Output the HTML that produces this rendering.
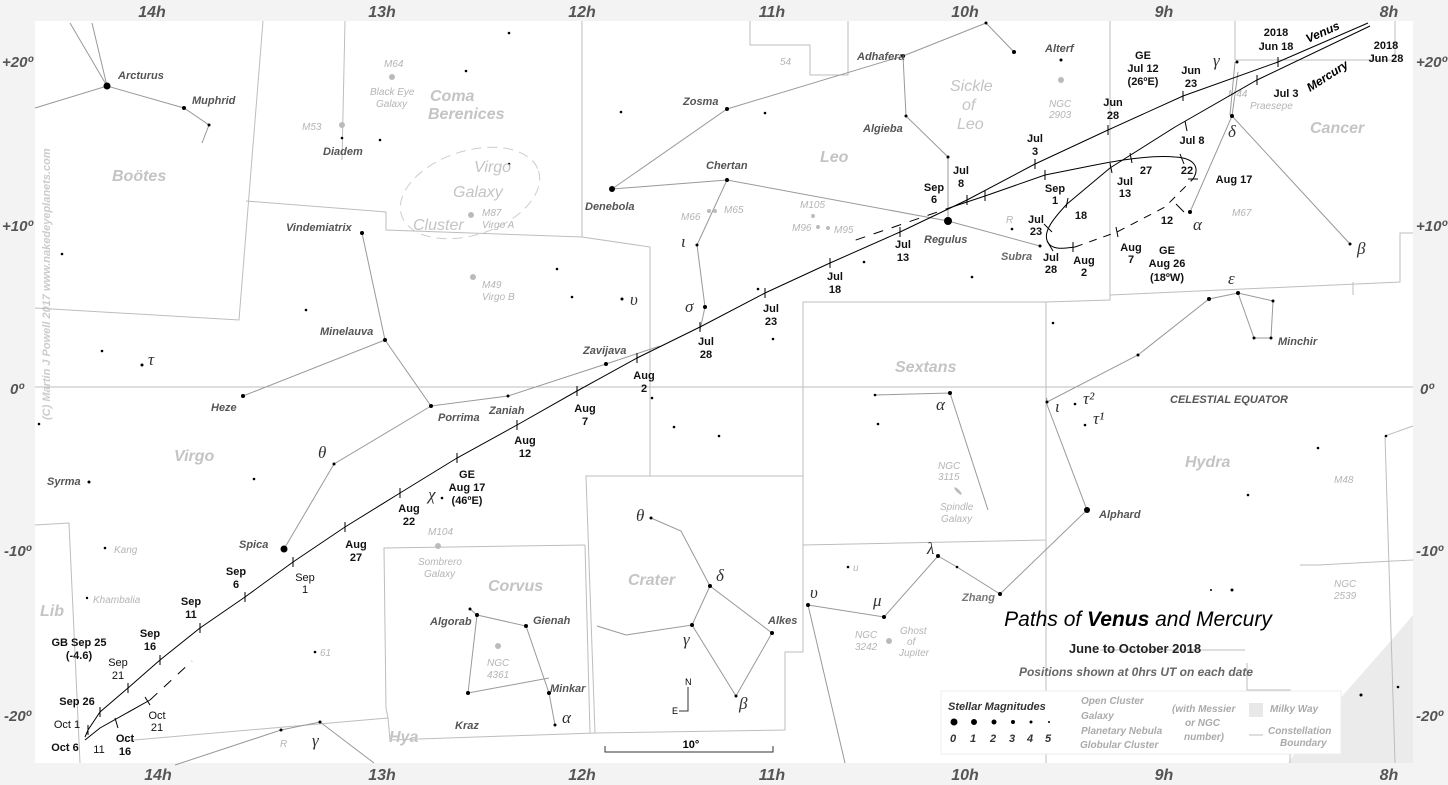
<!DOCTYPE html>
<html><head><meta charset="utf-8"><style>
html,body{margin:0;padding:0;background:#f3f3f3;}
svg{display:block;font-family:"Liberation Sans",sans-serif;}
.h{font:italic bold 16px "Liberation Sans";fill:#555;}
.d{font:italic bold 15px "Liberation Sans";fill:#555;}
.b{fill:none;stroke:#bdbdbd;stroke-width:1;}
.c{fill:none;stroke:#999;stroke-width:1;}
.sn{font:italic bold 11px "Liberation Sans";fill:#555;}
.g{font:italic 10px "Liberation Sans";fill:#b5b5b5;}
.gb{font:italic bold 10px "Liberation Sans";fill:#aaa;}
.con{font:bold 16px "Liberation Sans";fill:#c4c4c4;font-style:italic;}
.dt{font:bold 11px "Liberation Sans";fill:#111;text-anchor:middle;}
.gr{font:italic 17px "Liberation Serif";fill:#333;}
.p{fill:none;stroke:#000;stroke-width:1;}
</style></head><body>
<svg width="1448" height="785" viewBox="0 0 1448 785">
<rect x="35" y="21" width="1378" height="742" fill="#fff"/>
<!-- milky way -->
<path d="M1288,763 C1320,718 1365,672 1413,615 L1413,763Z" fill="#ebebeb"/>
<!-- hour labels -->
<g class="h" text-anchor="middle">
<text x="152" y="17">14h</text><text x="382" y="17">13h</text><text x="582" y="17">12h</text><text x="772" y="17">11h</text><text x="965" y="17">10h</text><text x="1164" y="17">9h</text><text x="1389" y="17">8h</text>
<text x="158" y="780">14h</text><text x="382" y="780">13h</text><text x="582" y="780">12h</text><text x="772" y="780">11h</text><text x="965" y="780">10h</text><text x="1164" y="780">9h</text><text x="1389" y="780">8h</text>
</g>
<g class="d"><text x="2" y="67">+20º</text><text x="2" y="231">+10º</text><text x="10" y="394">0º</text><text x="4" y="556">-10º</text><text x="4" y="721">-20º</text>
<text x="1416" y="67">+20º</text><text x="1416" y="231">+10º</text><text x="1420" y="394">0º</text><text x="1416" y="556">-10º</text><text x="1416" y="721">-20º</text></g>
<text transform="translate(50,420) rotate(-90)" style="font:italic bold 11px 'Liberation Sans';fill:#ccc">(C) Martin J Powell  2017   www.nakedeyeplanets.com</text>
<!-- boundaries -->
<g class="b">
<line x1="35" y1="387" x2="1413" y2="387"/>
<polyline points="263,21 239,320 35,308"/>
<polyline points="246,201 386,212 386,230 582,237 582,21"/>
<polyline points="582,237 650,247 650,476"/>
<polyline points="345,21 342,160"/>
<polyline points="35,525 69,523 80,763"/>
<polyline points="123,741 388,718 386,708 384,548 585,545"/>
<polyline points="388,718 390,740 595,733 586,476 803,476 803,545 1046,540 1046,302 803,302 803,476"/>
<polyline points="585,545 590,733"/>
<polyline points="803,545 803,652 785,652 785,730 595,733"/>
<polyline points="1046,540 1046,763"/>
<polyline points="1046,302 1110,300 1110,21"/>
<polyline points="1110,295 1400,282 1400,233 1413,233"/>
<polyline points="1235,21 1235,60 1395,60 1395,21"/>
<polyline points="1353,282 1353,295"/>
<polyline points="750,21 750,45 810,45 810,75 848,75 848,21"/>
<polyline points="1413,426 1385,436 1395,763"/>
<polyline points="1300,565 1310,565 1318,565 1413,560"/>
<polyline points="1247,663 1247,690 1290,690 1290,763"/>
<polyline points="1100,650 1245,650"/>
</g>
<ellipse cx="470" cy="193" rx="72" ry="42" transform="rotate(-18 470 193)" fill="none" stroke="#ccc" stroke-dasharray="10,6"/>
<!-- constellation lines -->
<g class="c">
<polyline points="70,23 107,86 92,23"/><polyline points="35,108 107,86 184,108 209,125 202,143"/>
<polyline points="362,233 385,340 243,396"/><polyline points="385,340 431,406 508,396 606,364 660,346"/>
<polyline points="431,406 334,464 284,549"/>
<polyline points="612,189 727,109 903,56 906,116 948,157 948,221"/><polyline points="903,56 986,23 1014,52"/>
<polyline points="612,189 727,180 948,221 1040,246"/>
<polyline points="727,180 697,245 705,307 700,330"/>
<polyline points="651,518 681,531 710,586 772,633 736,696 692,625 626,635 597,626"/><polyline points="710,586 692,625"/>
<polyline points="470,609 477,615 468,693"/><polyline points="477,615 526,626 549,693 555,725"/><polyline points="468,693 549,678"/>
<polyline points="175,765 281,730 320,722 374,763"/>
<polyline points="808,605 884,617 938,556 957,567 1000,594 1087,510 1046,402 1047,398"/>
<polyline points="808,605 845,763"/>
<polyline points="875,395 950,393 988,510"/>
<polyline points="1047,402 1138,355 1209,299 1238,293 1273,301 1271,338 1254,338 1238,293"/>
<polyline points="1230,115 1235,62"/><polyline points="1238,72 1232,116 1350,244"/><polyline points="1232,116 1190,212"/>
</g>
<!-- stars -->
<g fill="#000">
<circle cx="107" cy="86" r="3.5"/><circle cx="184" cy="108" r="2"/><circle cx="209" cy="125" r="1.5"/>
<circle cx="342" cy="138" r="1.3"/><circle cx="380" cy="140" r="1.3"/><circle cx="466" cy="71" r="1.3"/><circle cx="509" cy="33" r="1.3"/><circle cx="509" cy="164" r="1.3"/>
<circle cx="362" cy="233" r="2"/><circle cx="385" cy="340" r="2"/><circle cx="243" cy="396" r="2"/><circle cx="431" cy="406" r="2"/><circle cx="508" cy="396" r="1.5"/><circle cx="606" cy="364" r="2"/>
<circle cx="334" cy="464" r="1.5"/><circle cx="284" cy="549" r="3.5"/><circle cx="89" cy="482" r="1.5"/><circle cx="105" cy="548" r="1.3"/><circle cx="87" cy="598" r="1.2"/>
<circle cx="62" cy="254" r="1.3"/><circle cx="102" cy="351" r="1.3"/><circle cx="142" cy="365" r="1.5"/><circle cx="39" cy="424" r="1.3"/><circle cx="254" cy="479" r="1.3"/>
<circle cx="306" cy="310" r="1.3"/><circle cx="557" cy="269" r="1.3"/><circle cx="572" cy="297" r="1.3"/><circle cx="622" cy="299" r="1.5"/><circle cx="442" cy="498" r="1.3"/><circle cx="315" cy="652" r="1.3"/>
<circle cx="612" cy="189" r="3"/><circle cx="727" cy="109" r="2"/><circle cx="765" cy="113" r="1.3"/><circle cx="903" cy="56" r="2"/><circle cx="986" cy="23" r="1.5"/><circle cx="1014" cy="52" r="2"/>
<circle cx="906" cy="116" r="1.5"/><circle cx="948" cy="157" r="1.5"/><circle cx="948" cy="221" r="4"/><circle cx="727" cy="180" r="2"/><circle cx="697" cy="245" r="1.5"/><circle cx="705" cy="307" r="2"/>
<circle cx="621" cy="112" r="1.3"/><circle cx="1040" cy="246" r="1.5"/><circle cx="1012" cy="229" r="1.3"/><circle cx="972" cy="277" r="1.3"/><circle cx="1061" cy="60" r="1.5"/>
<circle cx="758" cy="289" r="1.3"/><circle cx="773" cy="339" r="1.3"/><circle cx="652" cy="398" r="1.3"/><circle cx="674" cy="427" r="1.3"/><circle cx="719" cy="436" r="1.3"/><circle cx="864" cy="262" r="1.3"/>
<circle cx="651" cy="518" r="1.5"/><circle cx="710" cy="586" r="2"/><circle cx="692" cy="625" r="2"/><circle cx="772" cy="633" r="2"/><circle cx="736" cy="696" r="1.5"/>
<circle cx="470" cy="609" r="1.5"/><circle cx="477" cy="615" r="2"/><circle cx="526" cy="626" r="2"/><circle cx="549" cy="693" r="2"/><circle cx="468" cy="693" r="2"/><circle cx="555" cy="725" r="1.5"/>
<circle cx="281" cy="730" r="1.5"/><circle cx="320" cy="722" r="1.5"/>
<circle cx="808" cy="605" r="2"/><circle cx="884" cy="617" r="2"/><circle cx="938" cy="556" r="2"/><circle cx="957" cy="567" r="1.3"/><circle cx="1000" cy="594" r="2"/><circle cx="848" cy="567" r="1.3"/>
<circle cx="875" cy="395" r="1.3"/><circle cx="950" cy="393" r="2"/><circle cx="878" cy="424" r="1.3"/>
<circle cx="1087" cy="510" r="3"/><circle cx="1047" cy="402" r="1.5"/><circle cx="1075" cy="404" r="1.3"/><circle cx="1085" cy="425" r="1.3"/>
<circle cx="1209" cy="299" r="2"/><circle cx="1238" cy="293" r="2"/><circle cx="1273" cy="301" r="1.5"/><circle cx="1254" cy="338" r="1.5"/><circle cx="1271" cy="338" r="1.5"/><circle cx="1138" cy="355" r="1.5"/><circle cx="1053" cy="323" r="1.3"/>
<circle cx="1232" cy="116" r="2"/><circle cx="1237" cy="62" r="1.5"/><circle cx="1350" cy="244" r="1.5"/><circle cx="1190" cy="212" r="2"/>
<circle cx="1318" cy="448" r="1.3"/><circle cx="1386" cy="436" r="1.3"/><circle cx="1248" cy="495" r="1.3"/><circle cx="1232" cy="590" r="1.5"/><circle cx="1361" cy="695" r="1.5"/><circle cx="1398" cy="687" r="1.3"/><circle cx="1211" cy="590" r="1"/>
</g>
<g fill="#bbb"><circle cx="392" cy="77" r="3"/><circle cx="342" cy="125" r="3"/><circle cx="471" cy="215" r="3"/><circle cx="473" cy="277" r="3"/><circle cx="1061" cy="80" r="3"/><circle cx="498" cy="646" r="3"/><circle cx="889" cy="641" r="3"/><circle cx="709" cy="211" r="2"/><circle cx="715" cy="211" r="2"/><circle cx="813" cy="216" r="2"/><circle cx="818" cy="227" r="2"/><circle cx="828" cy="228" r="2"/><circle cx="438" cy="546" r="3"/><ellipse cx="958" cy="491" rx="5" ry="1.5" transform="rotate(45 958 491)"/></g>
<g class="g"><text x="384" y="67">M64</text><text x="370" y="95">Black Eye</text><text x="376" y="107">Galaxy</text><text x="302" y="130">M53</text><text x="482" y="216">M87</text><text x="482" y="228">Virgo A</text>
<text x="482" y="288">M49</text><text x="482" y="300">Virgo B</text><text x="1049" y="107">NGC</text><text x="1049" y="118">2903</text><text x="681" y="220">M66</text><text x="724" y="213">M65</text><text x="800" y="208">M105</text><text x="792" y="231">M96</text><text x="834" y="233">M95</text>
<text x="428" y="535">M104</text><text x="418" y="565">Sombrero</text><text x="424" y="577">Galaxy</text><text x="487" y="666">NGC</text><text x="487" y="678">4361</text>
<text x="938" y="469">NGC</text><text x="938" y="480">3115</text><text x="940" y="510">Spindle</text><text x="941" y="522">Galaxy</text><text x="855" y="638">NGC</text><text x="855" y="650">3242</text><text x="900" y="634">Ghost</text><text x="907" y="645">of</text><text x="899" y="656">Jupiter</text>
<text x="1228" y="97">M44</text><text x="1232" y="216">M67</text><text x="1334" y="483">M48</text><text x="1334" y="587">NGC</text><text x="1334" y="599">2539</text><text x="1250" y="109">Praesepe</text>
<text x="114" y="553">Kang</text><text x="93" y="603">Khambalia</text><text x="320" y="656">61</text><text x="853" y="571">u</text><text x="280" y="747">R</text><text x="1006" y="223">R</text><text x="780" y="65">54</text></g>
<g class="con"><text x="112" y="181">Boötes</text><text x="430" y="101">Coma</text><text x="428" y="119">Berenices</text><text x="474" y="172" style="font-weight:normal">Virgo</text><text x="453" y="197" style="font-weight:normal">Galaxy</text><text x="413" y="230" style="font-weight:normal">Cluster</text>
<text x="174" y="461">Virgo</text><text x="488" y="591">Corvus</text><text x="628" y="585">Crater</text><text x="389" y="742">Hya</text><text x="895" y="372">Sextans</text><text x="820" y="162">Leo</text>
<text x="1185" y="467">Hydra</text><text x="1310" y="133">Cancer</text><text x="40" y="616">Lib</text><text x="950" y="91" style="font-weight:normal">Sickle</text><text x="962" y="110" style="font-weight:normal">of</text><text x="957" y="129" style="font-weight:normal">Leo</text></g>
<g class="sn"><text x="118" y="79">Arcturus</text><text x="192" y="104">Muphrid</text><text x="323" y="155">Diadem</text><text x="286" y="231">Vindemiatrix</text><text x="320" y="335">Minelauva</text><text x="211" y="411">Heze</text>
<text x="438" y="421">Porrima</text><text x="489" y="414">Zaniah</text><text x="583" y="354">Zavijava</text><text x="47" y="485">Syrma</text><text x="239" y="548">Spica</text><text x="585" y="210">Denebola</text><text x="683" y="105">Zosma</text><text x="706" y="169">Chertan</text>
<text x="857" y="60">Adhafera</text><text x="863" y="132">Algieba</text><text x="924" y="243">Regulus</text><text x="1045" y="52">Alterf</text><text x="1001" y="260" style="fill:#666">Subra</text><text x="430" y="625">Algorab</text><text x="533" y="624">Gienah</text><text x="455" y="729">Kraz</text><text x="550" y="692">Minkar</text><text x="768" y="624">Alkes</text>
<text x="962" y="601" style="fill:#777">Zhang</text><text x="1099" y="518">Alphard</text><text x="1278" y="345">Minchir</text><text x="1170" y="403">CELESTIAL EQUATOR</text></g>
<g class="gr"><text x="148" y="365">τ</text><text x="318" y="458">θ</text><text x="428" y="500">χ</text><text x="630" y="305">υ</text><text x="685" y="312">σ</text><text x="681" y="247">ι</text><text x="636" y="521">θ</text><text x="716" y="581">δ</text><text x="683" y="645">γ</text><text x="739" y="709">β</text><text x="562" y="723">α</text><text x="312" y="746">γ</text>
<text x="810" y="598">υ</text><text x="873" y="606">μ</text><text x="927" y="554">λ</text><text x="936" y="410">α</text><text x="1055" y="412">ι</text><text x="1083" y="404">τ²</text><text x="1093" y="424">τ¹</text><text x="1228" y="284">ε</text><text x="1213" y="66">γ</text><text x="1228" y="137">δ</text><text x="1193" y="230">α</text><text x="1357" y="254">β</text></g>
<polyline class="p" points="1368,23 1278,62 1183,96 1108,130 1035,164 967,200 900,232 830,263 765,293 700,327 637,358 577,391 517,425 457,458 400,493 345,527 293,562 245,597 200,628 160,660 128,688 100,712 88,730 85,737"/>
<g class="p"><line x1="1278" y1="57" x2="1278" y2="67"/><line x1="1183" y1="91" x2="1183" y2="101"/><line x1="1108" y1="125" x2="1108" y2="135"/><line x1="1035" y1="159" x2="1035" y2="169"/><line x1="967" y1="195" x2="967" y2="205"/><line x1="900" y1="227" x2="900" y2="237"/><line x1="830" y1="258" x2="830" y2="268"/><line x1="765" y1="288" x2="765" y2="298"/><line x1="700" y1="322" x2="700" y2="332"/><line x1="637" y1="353" x2="637" y2="363"/><line x1="577" y1="386" x2="577" y2="396"/><line x1="517" y1="420" x2="517" y2="430"/><line x1="457" y1="453" x2="457" y2="463"/><line x1="400" y1="488" x2="400" y2="498"/><line x1="345" y1="522" x2="345" y2="532"/><line x1="293" y1="557" x2="293" y2="567"/><line x1="245" y1="592" x2="245" y2="602"/><line x1="200" y1="623" x2="200" y2="633"/><line x1="160" y1="655" x2="160" y2="665"/><line x1="128" y1="683" x2="128" y2="693"/><line x1="100" y1="707" x2="100" y2="717"/><line x1="88" y1="725" x2="88" y2="735"/></g>
<path class="p" d="M1370,26 L1257,80 L1175,127 L1110,168 L1067,204 C1052,220 1040,235 1050,245 C1056,250 1065,248 1075,247"/>
<path class="p" stroke-dasharray="8,7" d="M1075,247 L1117,232 L1165,207 L1193,179"/>
<path class="p" d="M1193,179 C1200,168 1195,158 1175,157 C1150,155 1120,160 1090,166 L1045,175 L985,196 L955,206"/>
<path class="p" stroke-dasharray="10,9" d="M955,206 L850,242"/>
<path class="p" d="M85,740 L100,728 L150,700"/>
<path class="p" stroke-dasharray="10,9" d="M150,700 L192,661"/>
<g class="p"><line x1="1257" y1="75" x2="1257" y2="85"/><line x1="1185" y1="121" x2="1187" y2="131"/><line x1="1110" y1="163" x2="1112" y2="173"/><line x1="1068" y1="198" x2="1066" y2="208"/><line x1="1044" y1="224" x2="1052" y2="232"/><line x1="1047" y1="241" x2="1053" y2="251"/><line x1="1073" y1="242" x2="1073" y2="252"/><line x1="1116" y1="227" x2="1118" y2="237"/><line x1="1176" y1="204" x2="1184" y2="212"/><line x1="1188" y1="179" x2="1198" y2="179"/><line x1="1180" y1="154" x2="1184" y2="164"/><line x1="1130" y1="153" x2="1132" y2="163"/><line x1="1045" y1="170" x2="1045" y2="180"/><line x1="985" y1="191" x2="985" y2="201"/><line x1="115" y1="718" x2="118" y2="728"/><line x1="145" y1="697" x2="150" y2="705"/></g>
<g class="dt"><text x="1276" y="36">2018</text><text x="1276" y="50">Jun 18</text><text x="1386" y="49">2018</text><text x="1386" y="62">Jun 28</text>
<text x="1191" y="74">Jun</text><text x="1191" y="87">23</text><text x="1113" y="106">Jun</text><text x="1113" y="119">28</text><text x="1035" y="142">Jul</text><text x="1035" y="155">3</text><text x="961" y="174">Jul</text><text x="961" y="187">8</text>
<text x="903" y="248">Jul</text><text x="903" y="261">13</text><text x="835" y="280">Jul</text><text x="835" y="293">18</text><text x="771" y="312">Jul</text><text x="771" y="325">23</text><text x="706" y="345">Jul</text><text x="706" y="358">28</text>
<text x="644" y="379">Aug</text><text x="644" y="392">2</text><text x="585" y="412">Aug</text><text x="585" y="425">7</text><text x="525" y="444">Aug</text><text x="525" y="457">12</text><text x="467" y="478">GE</text><text x="467" y="491">Aug 17</text><text x="467" y="504">(46ºE)</text>
<text x="409" y="512">Aug</text><text x="409" y="525">22</text><text x="356" y="548">Aug</text><text x="356" y="561">27</text><text x="236" y="575">Sep</text><text x="236" y="588">6</text><text x="191" y="605">Sep</text><text x="191" y="618">11</text><text x="150" y="637">Sep</text><text x="150" y="650">16</text>
<text x="79" y="646">GB Sep 25</text><text x="79" y="659">(-4.6)</text><text x="118" y="666" style="font-weight:normal">Sep</text><text x="118" y="679" style="font-weight:normal">21</text><text x="77" y="705">Sep 26</text><text x="67" y="728" style="font-weight:normal">Oct 1</text><text x="65" y="751">Oct 6</text><text x="99" y="753" style="font-weight:normal">11</text><text x="125" y="742">Oct</text><text x="125" y="755">16</text><text x="157" y="719" style="font-weight:normal">Oct</text><text x="157" y="731" style="font-weight:normal">21</text>
<text x="305" y="581" style="font-weight:normal">Sep</text><text x="305" y="593" style="font-weight:normal">1</text>
<text x="1143" y="59">GE</text><text x="1143" y="72">Jul 12</text><text x="1143" y="85">(26ºE)</text><text x="1286" y="97">Jul 3</text><text x="1192" y="144">Jul 8</text><text x="1146" y="174">27</text><text x="1187" y="174">22</text><text x="1234" y="183">Aug 17</text>
<text x="1055" y="192">Sep</text><text x="1055" y="204">1</text><text x="1125" y="185">Jul</text><text x="1125" y="197">13</text><text x="1081" y="219">18</text><text x="1036" y="223">Jul</text><text x="1036" y="235">23</text><text x="1051" y="261">Jul</text><text x="1051" y="273">28</text>
<text x="1084" y="264">Aug</text><text x="1084" y="276">2</text><text x="1131" y="251">Aug</text><text x="1131" y="263">7</text><text x="1167" y="254">GE</text><text x="1167" y="267">Aug 26</text><text x="1167" y="281">(18ºW)</text><text x="1167" y="224">12</text>
<text x="934" y="191">Sep</text><text x="934" y="203">6</text></g>
<text x="1308" y="43" transform="rotate(-24 1308 43)" style="font:italic bold 12px 'Liberation Sans'">Venus</text>
<text x="1310" y="92" transform="rotate(-33 1310 92)" style="font:italic bold 12px 'Liberation Sans'">Mercury</text>
<text x="1138" y="626" text-anchor="middle" style="font:italic 21px 'Liberation Sans'">Paths of <tspan font-weight="bold">Venus</tspan> and Mercury</text>
<text x="1135" y="653" text-anchor="middle" style="font:bold 13px 'Liberation Sans';fill:#222">June to October 2018</text>
<text x="1136" y="676" text-anchor="middle" style="font:italic bold 12px 'Liberation Sans';fill:#666">Positions shown at 0hrs UT on each date</text>
<rect x="941" y="691" width="400" height="63" fill="#fff" stroke="#eee"/>
<text x="948" y="710" style="font:italic bold 11px 'Liberation Sans';fill:#333">Stellar Magnitudes</text>
<g fill="#000"><circle cx="954" cy="722" r="3.5"/><circle cx="974" cy="722" r="3"/><circle cx="994" cy="722" r="2.5"/><circle cx="1013" cy="722" r="2"/><circle cx="1031" cy="722" r="1.5"/><circle cx="1049" cy="722" r="1"/></g>
<g style="font:italic bold 11px 'Liberation Sans';fill:#333"><text x="950" y="742">0</text><text x="970" y="742">1</text><text x="990" y="742">2</text><text x="1009" y="742">3</text><text x="1027" y="742">4</text><text x="1045" y="742">5</text></g>
<g class="gb"><text x="1081" y="704">Open Cluster</text><text x="1081" y="719">Galaxy</text><text x="1081" y="734">Planetary Nebula</text><text x="1080" y="748">Globular Cluster</text><text x="1172" y="712">(with Messier</text><text x="1185" y="726">or NGC</text><text x="1184" y="740">number)</text><text x="1270" y="712">Milky Way</text><text x="1268" y="734">Constellation</text><text x="1280" y="746">Boundary</text></g>
<rect x="1249" y="703" width="14" height="14" fill="#e8e8e8"/><line x1="1249" y1="735" x2="1263" y2="735" stroke="#bbb"/>
<path d="M605,746 V752 H773 V746" fill="none" stroke="#333"/><text x="691" y="748" text-anchor="middle" style="font:bold 11px 'Liberation Sans'">10°</text>
<path d="M688,687 V711 H679" fill="none" stroke="#333"/><text x="685" y="685" style="font:9px 'Liberation Sans'">N</text><text x="672" y="714" style="font:9px 'Liberation Sans'">E</text>
</svg>
</body></html>
